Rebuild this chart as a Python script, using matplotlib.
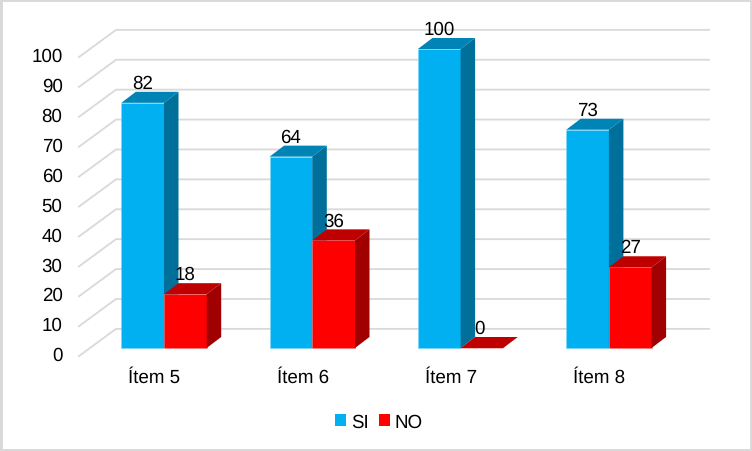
import numpy as np
import matplotlib
matplotlib.use("Agg")
import matplotlib.pyplot as plt
from matplotlib.patches import Polygon, Rectangle

plt.rcParams['font.family'] = ['Liberation Sans', 'DejaVu Sans']
plt.rcParams['text.hinting'] = 'none'

items = ["Ítem 5", "Ítem 6", "Ítem 7", "Ítem 8"]
si = [82, 64, 100, 73]
no = [18, 36, 0, 27]
yticks = list(range(0, 101, 10))

# pixel scale of the picture
px_x = 148.3   # one category
px_y = 2.99    # one unit of value
x0_px = 164
y0_px = 349
w = 42.7 / px_x
dx = 14.5 / px_x
dy = 11 / px_y
fs = 13.5

fig = plt.figure(figsize=(7.52, 4.52), dpi=100, facecolor="white")
ax = fig.add_axes([0, 0, 1, 1])
ax.set_xlim(-x0_px / px_x, (752 - x0_px) / px_x)
ax.set_ylim(-(452 - y0_px) / px_y, y0_px / px_y)
ax.axis("off")

# wall lines, going back from the left end
wall_x = (116 - x0_px) / px_x
end_x = (709 - x0_px) / px_x
front_x = (79 - x0_px) / px_x
for v in yticks:
    ax.plot([front_x, wall_x, end_x], [v - 2.7, v + 6.4, v + 6.4], color="#D9D9D9", lw=1.3, zorder=1)
    ax.text(front_x - 16.5 / px_x, v - 2.4, str(v), ha="right", va="center", fontsize=fs, color="black")


def bar3d(x, val, front, top, side, edge):
    ax.bar(x, val, width=w, align="edge", color=front, zorder=3, edgecolor=edge, linewidth=0.4)
    ax.add_patch(Polygon([(x, val), (x + w, val), (x + w + dx, val + dy), (x + dx, val + dy)],
                         closed=True, facecolor=top, edgecolor="none", zorder=3))
    ax.add_patch(Polygon([(x + w, 0), (x + w + dx, dy), (x + w + dx, val + dy), (x + w, val)],
                         closed=True, facecolor=side, edgecolor="none", zorder=3))


for i in range(len(items)):
    bar3d(i - w, si[i], "#00B0F0", "#0084B5", "#00709A", "#7FD7F7")
    bar3d(i, no[i], "#FF0000", "#BF0000", "#A00000", "#FF8080")
    ax.text(i - w / 2, si[i] + dy, str(si[i]), ha="center", va="bottom", fontsize=fs, color="black", zorder=5)
    nx = i + w / 2 - (2 / px_x if no[i] == 0 else 0)
    ax.text(nx, no[i] + dy, str(no[i]), ha="center", va="bottom", fontsize=fs, color="black", zorder=5)
    ax.text(i - 0.065, -9.6, items[i], ha="center", va="center", fontsize=fs, color="black")

# legend
s1 = Rectangle((0, 0), 1, 1, facecolor="#00B0F0")
s2 = Rectangle((0, 0), 1, 1, facecolor="#FF0000")
ax.legend([s1, s2], ["SI", "NO"], ncol=2, frameon=False, fontsize=fs,
          loc="center", bbox_to_anchor=(379 / 752, 1 - 423 / 452),
          handlelength=0.58, handleheight=0.58, handletextpad=0.25, columnspacing=0.55)

# outer border
fig.add_artist(Rectangle((0, 0), 1, 1, transform=fig.transFigure, fill=False, edgecolor="#D9D9D9", lw=3.5))

fig.savefig("out.png", dpi=100)
